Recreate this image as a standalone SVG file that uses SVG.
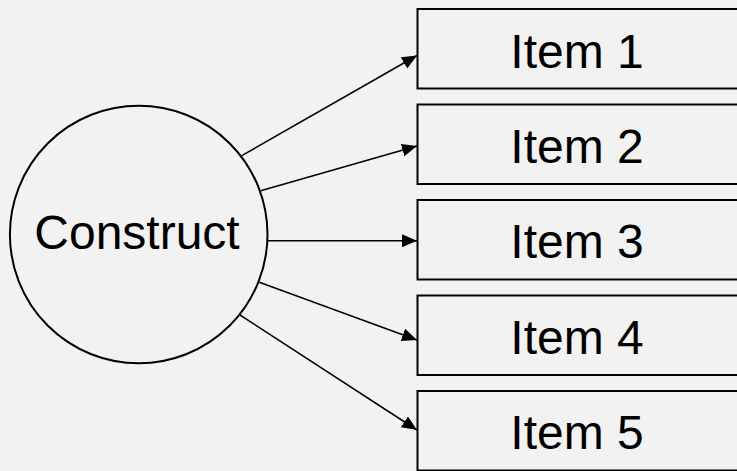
<svg xmlns="http://www.w3.org/2000/svg" width="737" height="471" viewBox="0 0 737 471">
  <style>
    .box { fill: #f2f2f2; stroke: #000; stroke-width: 2; }
    .circ { fill: #f2f2f2; stroke: #000; stroke-width: 2; }
    .lbl { font-family: "Liberation Sans", Arial, sans-serif; font-size: 48px; fill: #000; text-anchor: middle; }
    .edge { stroke: #000; stroke-width: 1.5; fill: none; marker-end: url(#arrow); }
  </style>
  <defs>
    <marker id="arrow" markerUnits="userSpaceOnUse" markerWidth="16" markerHeight="14" refX="15" refY="6.5" orient="auto">
      <path d="M0,0 L15,6.5 L0,13 z" fill="#000"/>
    </marker>
  </defs>
  <rect width="737" height="471" fill="#f2f2f2"/>

  <g id="construct">
    <circle class="circ" cx="138.7" cy="234.5" r="128.8"/>
    <text class="lbl" x="137" y="249">Construct</text>
  </g>

  <g id="item1">
    <rect class="box" x="417.5" y="9" width="330" height="79.5"/>
    <text class="lbl" x="577" y="67.5">Item 1</text>
  </g>
  <g id="item2">
    <rect class="box" x="417.5" y="104.5" width="330" height="79.5"/>
    <text class="lbl" x="577" y="163">Item 2</text>
  </g>
  <g id="item3">
    <rect class="box" x="417.5" y="200" width="330" height="79.5"/>
    <text class="lbl" x="577" y="258.3">Item 3</text>
  </g>
  <g id="item4">
    <rect class="box" x="417.5" y="295.5" width="330" height="79.5"/>
    <text class="lbl" x="577" y="354">Item 4</text>
  </g>
  <g id="item5">
    <rect class="box" x="417.5" y="391" width="330" height="79.5"/>
    <text class="lbl" x="577" y="449.3">Item 5</text>
  </g>

  <g id="connectors">
    <line class="edge" x1="241.7" y1="155.7" x2="417" y2="55.5"/>
    <line class="edge" x1="260.7" y1="190.7" x2="417" y2="146"/>
    <line class="edge" x1="267.3" y1="240.7" x2="417" y2="240.7"/>
    <line class="edge" x1="259.3" y1="282.3" x2="417" y2="340"/>
    <line class="edge" x1="240" y1="315" x2="417" y2="430"/>
  </g>
</svg>
